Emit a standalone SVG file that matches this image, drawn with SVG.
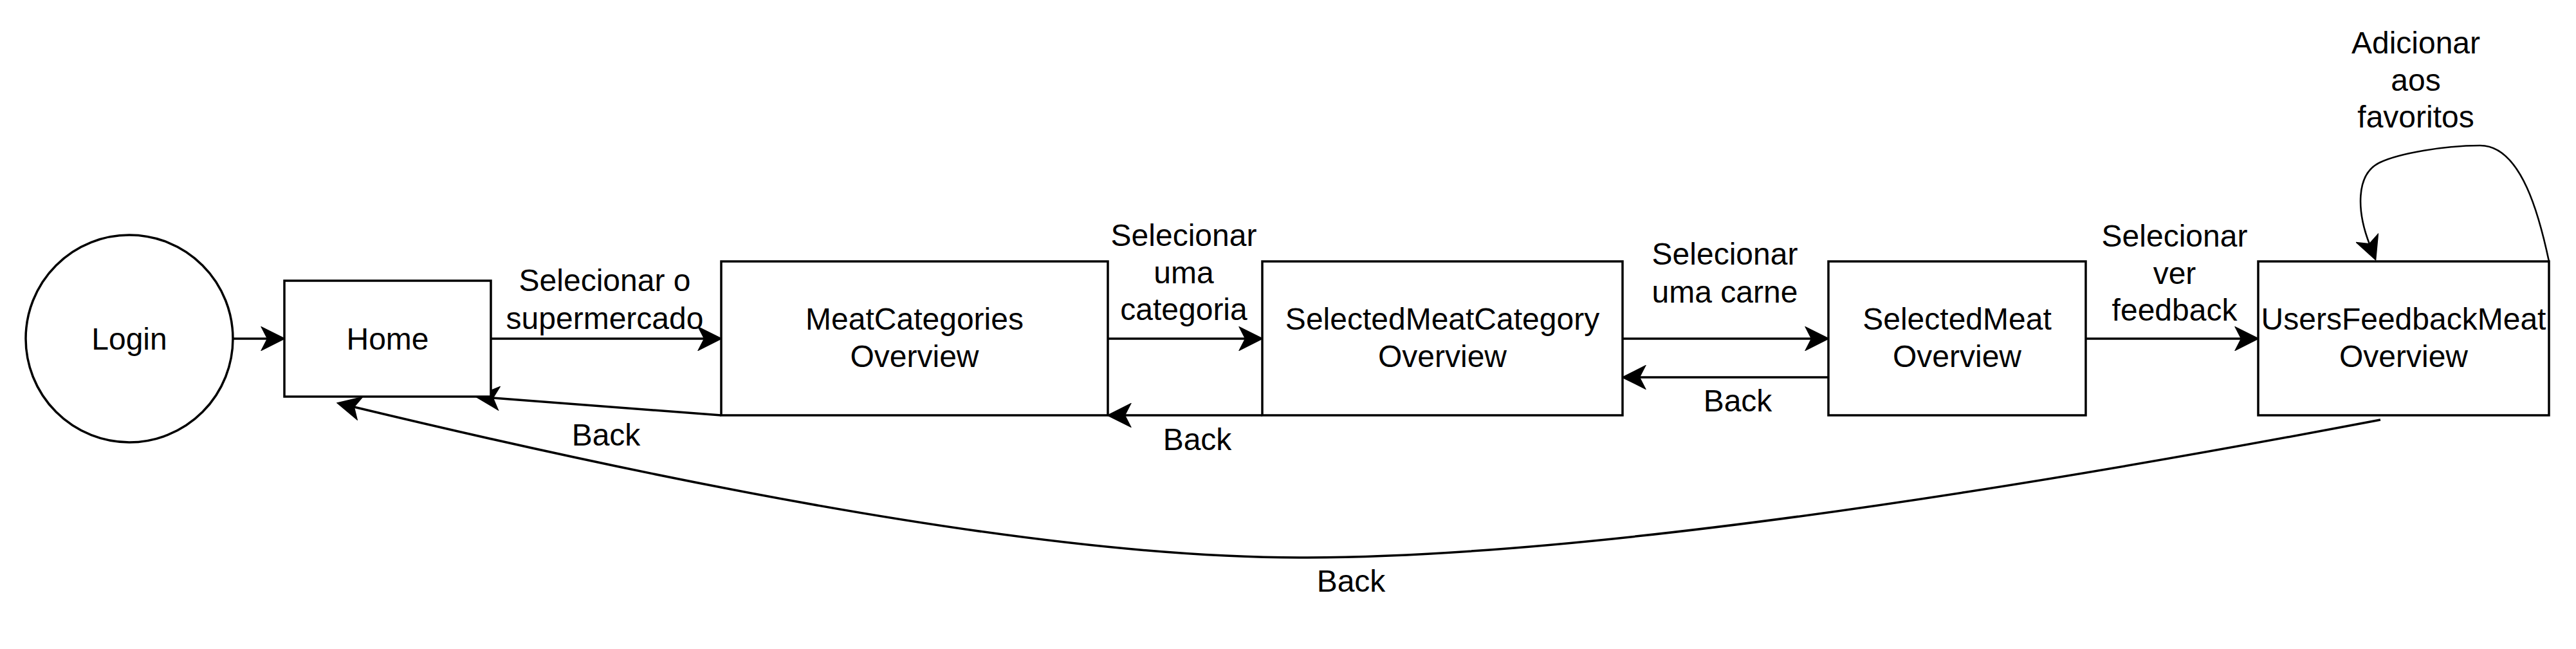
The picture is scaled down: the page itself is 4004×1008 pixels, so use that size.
<svg xmlns="http://www.w3.org/2000/svg" width="4004" height="1008" viewBox="0 0 4004 1008">
<style>
.n{fill:#fff;stroke:#000;stroke-width:3.5}
.e{fill:none;stroke:#000;stroke-width:3.5}
.e2{fill:none;stroke:#000;stroke-width:2.6}
text{font-family:"Liberation Sans",Arial,Helvetica,sans-serif;font-size:48px;fill:#000;text-anchor:middle}
</style>
<defs>
<marker id="arr" viewBox="-37 -19 39 38" refX="-26" refY="0" markerWidth="39" markerHeight="38" markerUnits="userSpaceOnUse" orient="auto">
<path d="M0,0 L-35,-17.5 L-26,0 L-35,17.5 Z" fill="#000" stroke="#000" stroke-width="2" stroke-linejoin="miter"/>
</marker>
</defs>
<rect width="4004" height="1008" fill="#fff"/>
<g id="connectors">
<path class="e" d="M362,526 L416,526" marker-end="url(#arr)"/>
<path class="e" d="M763,526 L1095,526" marker-end="url(#arr)"/>
<path class="e" d="M1722,526 L1936,526" marker-end="url(#arr)"/>
<path class="e" d="M2522,526 L2816,526" marker-end="url(#arr)"/>
<path class="e" d="M3242,526 L3484,526" marker-end="url(#arr)"/>
<path class="e" d="M2842,586 L2548,586" marker-end="url(#arr)"/>
<path class="e" d="M1962,645 L1748,645" marker-end="url(#arr)"/>
<path class="e" d="M1121,645 L766,618" marker-end="url(#arr)"/>
<path class="e" d="M3700,652 Q2574,866 2020,866 Q1525,866 550,632" marker-end="url(#arr)"/>
<path class="e2" d="M3962,406 C3948,340 3920,226 3855,226 C3800,226 3730,238 3700,252 C3660,270 3664,330 3683,379" marker-end="url(#arr)"/>
<text x="940" y="452">Selecionar o</text>
<text x="940" y="511">supermercado</text>
<text x="1840" y="382">Selecionar</text>
<text x="1840" y="440">uma</text>
<text x="1840" y="497">categoria</text>
<text x="2681" y="411">Selecionar</text>
<text x="2681" y="470">uma carne</text>
<text x="3380" y="383">Selecionar</text>
<text x="3380" y="441">ver</text>
<text x="3380" y="498">feedback</text>
<text x="3755" y="83">Adicionar</text>
<text x="3755" y="141">aos</text>
<text x="3755" y="198">favoritos</text>
<text x="942" y="692">Back</text>
<text x="1861" y="699">Back</text>
<text x="2701" y="639">Back</text>
<text x="2100" y="919">Back</text>
</g>
<g id="login">
<circle class="n" cx="201" cy="526" r="161"/>
<text x="201" y="543">Login</text>
</g>
<g id="home">
<rect class="n" x="442" y="436" width="321" height="180"/>
<text x="602.5" y="543">Home</text>
</g>
<g id="meatCategories">
<rect class="n" x="1121" y="406" width="601" height="239"/>
<text x="1421.5" y="512">MeatCategories</text>
<text x="1421.5" y="570">Overview</text>
</g>
<g id="selectedMeatCategory">
<rect class="n" x="1962" y="406" width="560" height="239"/>
<text x="2242" y="512">SelectedMeatCategory</text>
<text x="2242" y="570">Overview</text>
</g>
<g id="selectedMeat">
<rect class="n" x="2842" y="406" width="400" height="239"/>
<text x="3042" y="512">SelectedMeat</text>
<text x="3042" y="570">Overview</text>
</g>
<g id="usersFeedbackMeat">
<rect class="n" x="3510" y="406" width="452" height="239"/>
<text x="3736" y="512">UsersFeedbackMeat</text>
<text x="3736" y="570">Overview</text>
</g>
</svg>
